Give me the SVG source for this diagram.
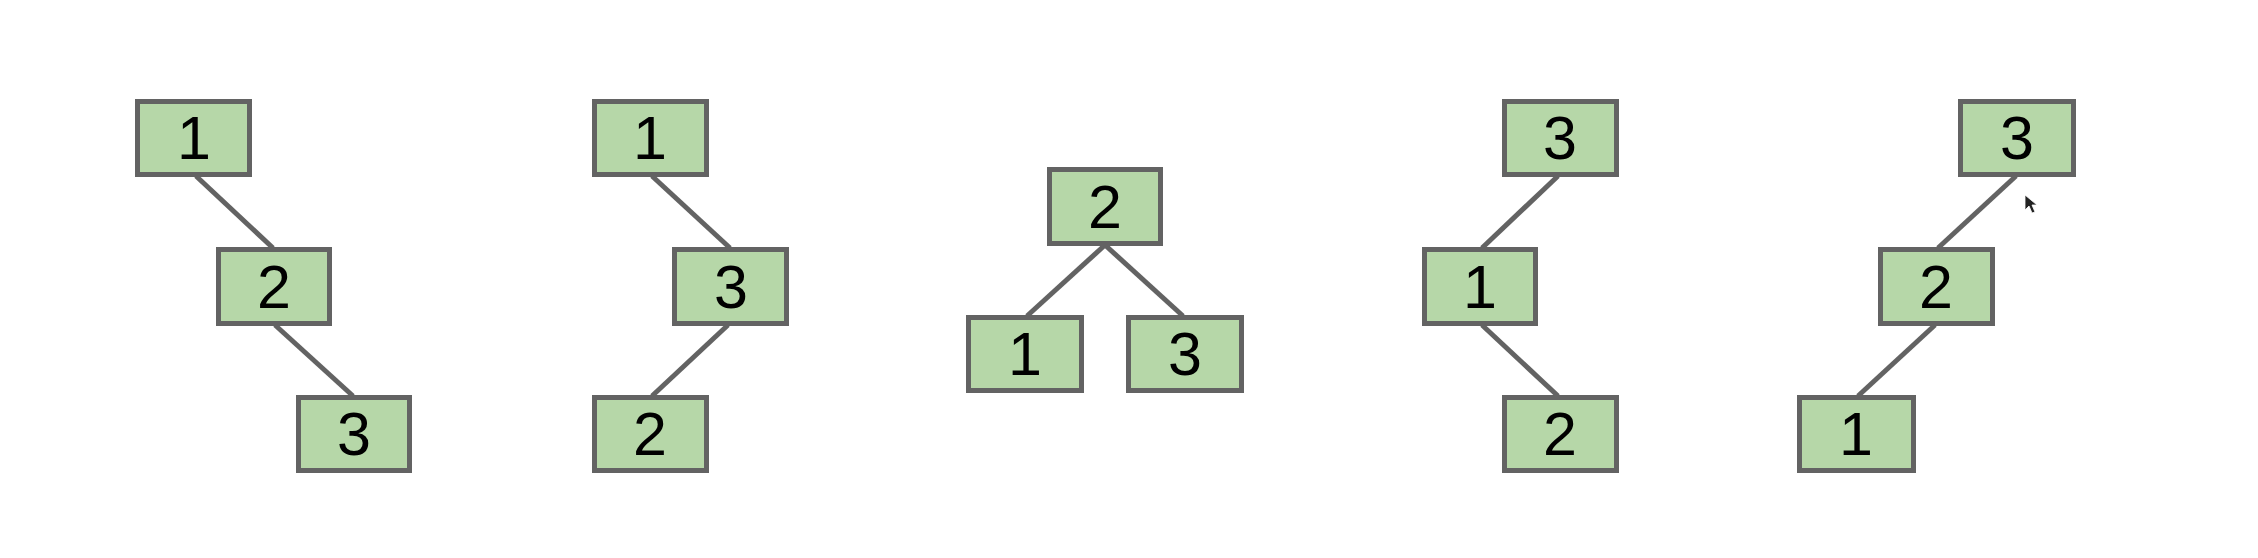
<svg xmlns="http://www.w3.org/2000/svg" width="2258" height="558" viewBox="0 0 2258 558">
<style>
.box{fill:#b6d7a8;stroke:#636363;stroke-width:5}
.lbl{font-family:"Liberation Sans",Arial,sans-serif;font-size:61px;fill:#000;text-anchor:middle}
.edge{stroke:#636363;stroke-width:5;fill:none}
</style>
<rect width="2258" height="558" fill="#ffffff"/>
<g id="connectors">
<line class="edge" x1="196" y1="176" x2="273" y2="248"/>
<line class="edge" x1="275" y1="325" x2="353" y2="396"/>
<line class="edge" x1="652" y1="176" x2="730" y2="248"/>
<line class="edge" x1="728" y1="325" x2="652" y2="396"/>
<line class="edge" x1="1105" y1="245" x2="1027" y2="316"/>
<line class="edge" x1="1105" y1="245" x2="1183" y2="316"/>
<line class="edge" x1="1558" y1="176" x2="1482" y2="248"/>
<line class="edge" x1="1482" y1="325" x2="1558" y2="396"/>
<line class="edge" x1="2016" y1="176" x2="1938" y2="248"/>
<line class="edge" x1="1935" y1="325" x2="1858" y2="396"/>
</g>
<g id="t1n1"><rect class="box" x="137.5" y="101.5" width="112" height="73"/><text class="lbl" x="194" y="159">1</text></g>
<g id="t1n2"><rect class="box" x="218.5" y="249.5" width="111" height="74"/><text class="lbl" x="274" y="308">2</text></g>
<g id="t1n3"><rect class="box" x="298.5" y="397.5" width="111" height="73"/><text class="lbl" x="354" y="455">3</text></g>
<g id="t2n1"><rect class="box" x="594.5" y="101.5" width="112" height="73"/><text class="lbl" x="650" y="159">1</text></g>
<g id="t2n3"><rect class="box" x="674.5" y="249.5" width="112" height="74"/><text class="lbl" x="731" y="308">3</text></g>
<g id="t2n2"><rect class="box" x="594.5" y="397.5" width="112" height="73"/><text class="lbl" x="650" y="455">2</text></g>
<g id="t3n2"><rect class="box" x="1049.5" y="169.5" width="111" height="74"/><text class="lbl" x="1105" y="228">2</text></g>
<g id="t3n1"><rect class="box" x="968.5" y="317.5" width="113" height="73"/><text class="lbl" x="1025" y="375">1</text></g>
<g id="t3n3"><rect class="box" x="1128.5" y="317.5" width="113" height="73"/><text class="lbl" x="1185" y="375">3</text></g>
<g id="t4n3"><rect class="box" x="1504.5" y="101.5" width="112" height="73"/><text class="lbl" x="1560" y="159">3</text></g>
<g id="t4n1"><rect class="box" x="1424.5" y="249.5" width="111" height="74"/><text class="lbl" x="1480" y="308">1</text></g>
<g id="t4n2"><rect class="box" x="1504.5" y="397.5" width="112" height="73"/><text class="lbl" x="1560" y="455">2</text></g>
<g id="t5n3"><rect class="box" x="1960.5" y="101.5" width="113" height="73"/><text class="lbl" x="2017" y="159">3</text></g>
<g id="t5n2"><rect class="box" x="1880.5" y="249.5" width="112" height="74"/><text class="lbl" x="1936" y="308">2</text></g>
<g id="t5n1"><rect class="box" x="1799.5" y="397.5" width="114" height="73"/><text class="lbl" x="1856" y="455">1</text></g>
<polygon points="2025,195 2025,210 2029,206 2032,213 2035,212 2032,205 2037,205" fill="#222222" stroke="#ffffff" stroke-width="0.8"/>
</svg>
